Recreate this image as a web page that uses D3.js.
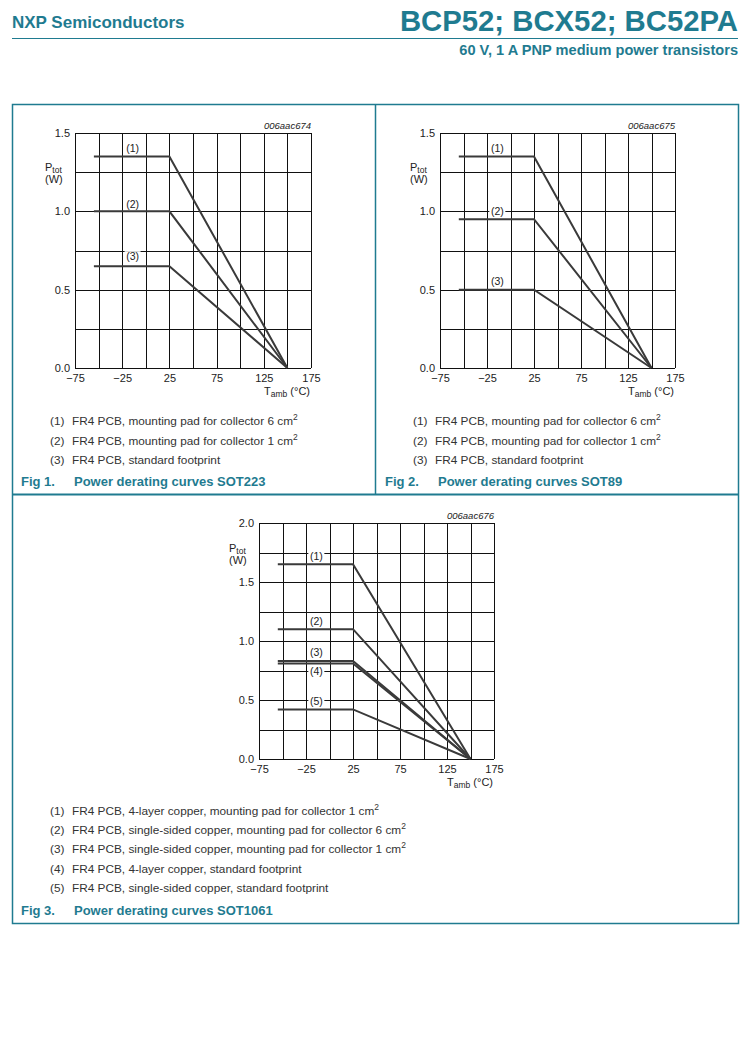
<!DOCTYPE html>
<html>
<head>
<meta charset="utf-8">
<script src="https://cdn.jsdelivr.net/npm/d3@7"></script>
<style>
  html, body { margin: 0; padding: 0; background: #fff; }
  svg { display: block; font-family: "Liberation Sans", Arial, sans-serif; }
</style>
</head>
<body>
<svg id="page" width="751" height="1042"></svg>
<script>
// ---------------- DATA ----------------
const tempPoints = [-55, 25, 150];            // Tamb breakpoints (°C)
const xTicks = [-75, -25, 25, 75, 125, 175];
const xGrid = d3.range(-75, 176, 25);

const fig1Labels = ["(1)", "(2)", "(3)"];
const fig1Ptot = [1.35, 1.0, 0.65];
const fig1Legend = [
  "FR4 PCB, mounting pad for collector 6 cm",
  "FR4 PCB, mounting pad for collector 1 cm",
  "FR4 PCB, standard footprint"
];
const fig1Sup = ["2", "2", ""];

const fig2Labels = ["(1)", "(2)", "(3)"];
const fig2Ptot = [1.35, 0.95, 0.5];
const fig2Legend = fig1Legend;
const fig2Sup = fig1Sup;

const fig3Labels = ["(1)", "(2)", "(3)", "(4)", "(5)"];
const fig3Ptot = [1.65, 1.1, 0.83, 0.81, 0.42];
const fig3Legend = [
  "FR4 PCB, 4-layer copper, mounting pad for collector 1 cm",
  "FR4 PCB, single-sided copper, mounting pad for collector 6 cm",
  "FR4 PCB, single-sided copper, mounting pad for collector 1 cm",
  "FR4 PCB, 4-layer copper, standard footprint",
  "FR4 PCB, single-sided copper, standard footprint"
];
const fig3Sup = ["2", "2", "2", "", ""];

const yTicks15 = [0, 0.5, 1.0, 1.5];
const yTicks20 = [0, 0.5, 1.0, 1.5, 2.0];

// ---------------- STYLE ----------------
const TEAL = "#1f7b90";
const INK = "#222";
const svg = d3.select("#page");

// Header
svg.append("text").attr("x", 12).attr("y", 28)
  .attr("font-size", 17).attr("font-weight", "bold").attr("fill", TEAL)
  .text("NXP Semiconductors");
svg.append("text").attr("x", 738).attr("y", 31).attr("text-anchor", "end")
  .attr("font-size", 29.3).attr("font-weight", "bold").attr("fill", TEAL)
  .text("BCP52; BCX52; BC52PA");
svg.append("line").attr("x1", 12).attr("x2", 738).attr("y1", 38.5).attr("y2", 38.5)
  .attr("stroke", TEAL).attr("stroke-width", 1);
svg.append("text").attr("x", 738).attr("y", 54.5).attr("text-anchor", "end")
  .attr("font-size", 14.6).attr("font-weight", "bold").attr("fill", TEAL)
  .text("60 V, 1 A PNP medium power transistors");

// Boxes
const box = svg.append("g").attr("fill", "none").attr("stroke", TEAL);
box.append("rect").attr("x", 12.5).attr("y", 104.5).attr("width", 726).attr("height", 819).attr("stroke-width", 1.5);
box.append("line").attr("x1", 375.5).attr("x2", 375.5).attr("y1", 104.5).attr("y2", 494).attr("stroke-width", 1.5);
box.append("line").attr("x1", 12.5).attr("x2", 738.5).attr("y1", 494.5).attr("y2", 494.5).attr("stroke-width", 2);

function fmtX(v) { return v < 0 ? "\u2212" + Math.abs(v) : String(v); }

function drawChart(cfg) {
  const g = svg.append("g");
  const x = d3.scaleLinear().domain([-75, 175]).range([cfg.left, cfg.left + cfg.w]);
  const y = d3.scaleLinear().domain([0, cfg.ymax]).range([cfg.top + cfg.h, cfg.top]);
  const yGrid = d3.range(0, cfg.ymax + 0.001, 0.25);

  // grid
  const grid = g.append("g").attr("stroke", "#111").attr("stroke-width", 1).attr("shape-rendering", "crispEdges");
  grid.selectAll(".vx").data(xGrid).join("line")
    .attr("x1", d => Math.round(x(d)) + 0.5).attr("x2", d => Math.round(x(d)) + 0.5)
    .attr("y1", y(cfg.ymax)).attr("y2", y(0));
  grid.selectAll(".hy").data(yGrid).join("line")
    .attr("y1", d => Math.round(y(d)) + 0.5).attr("y2", d => Math.round(y(d)) + 0.5)
    .attr("x1", x(-75)).attr("x2", x(175));

  // axes (tick labels only, via d3 axes)
  const xAxis = d3.axisBottom(x).tickValues(xTicks).tickSize(0).tickPadding(6).tickFormat(fmtX);
  const ax = g.append("g").attr("transform", `translate(0,${y(0)})`).call(xAxis);
  ax.select(".domain").remove();
  ax.selectAll("text").attr("font-size", 11).attr("fill", INK).attr("font-family", "Liberation Sans, Arial, sans-serif");

  const yAxis = d3.axisLeft(y).tickValues(cfg.yTicks).tickSize(0).tickPadding(5).tickFormat(d3.format(".1f"));
  const ay = g.append("g").attr("transform", `translate(${x(-75)},0)`).call(yAxis);
  ay.select(".domain").remove();
  ay.selectAll("text").attr("font-size", 11).attr("fill", INK).attr("font-family", "Liberation Sans, Arial, sans-serif");

  // axis titles
  const pt = g.append("text").attr("x", cfg.left - 30).attr("y", cfg.top + cfg.ptotDy)
    .attr("font-size", 11).attr("fill", INK);
  pt.append("tspan").text("P");
  pt.append("tspan").attr("font-size", 8.5).attr("dy", 1.5).text("tot");
  g.append("text").attr("x", cfg.left - 30).attr("y", cfg.top + cfg.ptotDy + 12)
    .attr("font-size", 11).attr("fill", INK).text("(W)");

  const ta = g.append("text").attr("x", cfg.left + cfg.w - 1).attr("y", y(0) + 27)
    .attr("text-anchor", "end").attr("font-size", 11).attr("fill", INK);
  ta.append("tspan").text("T");
  ta.append("tspan").attr("font-size", 8.5).attr("dy", 1.5).text("amb");
  ta.append("tspan").attr("dy", -1.5).text(" (\u00B0C)");

  g.append("text").attr("x", cfg.left + cfg.w).attr("y", cfg.top - 4)
    .attr("text-anchor", "end").attr("font-size", 9.5).attr("font-style", "italic").attr("fill", INK)
    .text(cfg.code);

  // curves
  const line = d3.line().x(d => x(d[0])).y(d => y(d[1]));
  cfg.ptot.forEach((p, i) => {
    const pts = [[tempPoints[0], p], [tempPoints[1], p], [tempPoints[2], 0]];
    g.append("path").attr("d", line(pts)).attr("fill", "none")
      .attr("stroke", "#3a3a3a").attr("stroke-width", 2).attr("stroke-linejoin", "miter");
  });

  // curve labels with white knock-out
  cfg.labels.forEach((lab, i) => {
    const cx = x(-14);
    const cy = y(cfg.ptot[i]) + cfg.labelDy[i];
    g.append("rect").attr("x", cx - 8).attr("y", cy - 5).attr("width", 16).attr("height", 10).attr("fill", "#fff");
    g.append("text").attr("x", cx).attr("y", cy + 4).attr("text-anchor", "middle")
      .attr("font-size", 10.5).attr("fill", INK).text(lab);
  });

  // legend
  cfg.legend.forEach((txt, i) => {
    const ly = cfg.legendTop + i * cfg.legendStep;
    g.append("text").attr("x", cfg.legendX).attr("y", ly).attr("font-size", 11.8).attr("fill", "#333")
      .text(cfg.labels[i]);
    const t = g.append("text").attr("x", cfg.legendX + 22).attr("y", ly).attr("font-size", 11.8).attr("fill", "#333");
    t.append("tspan").text(txt);
    if (cfg.sup[i]) t.append("tspan").attr("font-size", 8.5).attr("dy", -5).text(cfg.sup[i]);
  });

  // caption
  g.append("text").attr("x", cfg.capX).attr("y", cfg.capY).attr("font-size", 13).attr("font-weight", "bold")
    .attr("fill", TEAL).text(cfg.figNo);
  g.append("text").attr("x", cfg.capX + 53).attr("y", cfg.capY).attr("font-size", 13).attr("font-weight", "bold")
    .attr("fill", TEAL).text(cfg.caption);
}

drawChart({
  left: 75, top: 133, w: 236, h: 235, ymax: 1.5, yTicks: yTicks15, ptotDy: 38,
  code: "006aac674", ptot: fig1Ptot, labels: fig1Labels, labelDy: [-9, -7, -10],
  legend: fig1Legend, sup: fig1Sup, legendX: 50, legendTop: 425, legendStep: 19.5,
  capX: 21, capY: 486, figNo: "Fig 1.", caption: "Power derating curves SOT223"
});
drawChart({
  left: 440, top: 133, w: 235, h: 235, ymax: 1.5, yTicks: yTicks15, ptotDy: 38,
  code: "006aac675", ptot: fig2Ptot, labels: fig2Labels, labelDy: [-9, -8, -9],
  legend: fig2Legend, sup: fig2Sup, legendX: 413, legendTop: 425, legendStep: 19.5,
  capX: 385, capY: 486, figNo: "Fig 2.", caption: "Power derating curves SOT89"
});
drawChart({
  left: 259, top: 523, w: 235, h: 236, ymax: 2.0, yTicks: yTicks20, ptotDy: 29,
  code: "006aac676", ptot: fig3Ptot, labels: fig3Labels, labelDy: [-8, -8, -9, 8, -8],
  legend: fig3Legend, sup: fig3Sup, legendX: 50, legendTop: 815, legendStep: 19.2,
  capX: 21, capY: 915, figNo: "Fig 3.", caption: "Power derating curves SOT1061"
});
</script>
</body>
</html>
